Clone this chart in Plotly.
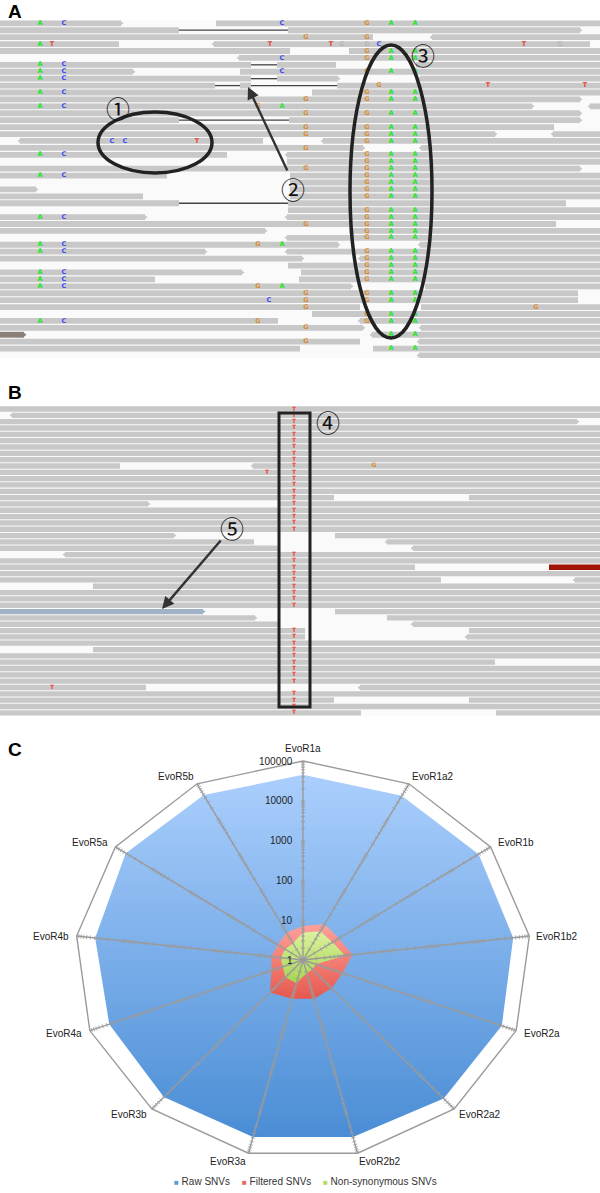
"""Three panel figure: read pileups (A, B) and SNV radar chart (C)."""

import numpy as np
import plotly.graph_objects as go

W, H = 600, 1193

# panel A reads, one list per row: (start, end) along the contig
FULL = [(0, 600)]
A_READS = [
    [(0, 121), (216, 600)], [(0, 179), (288, 580)], [(0, 373), (432, 600)],
    [(0, 119), (214, 590)], [(0, 290), (349, 600)], [(239, 600)],
    [(0, 251), (277, 336), (416, 600)], [(0, 133), (240, 600)],
    [(0, 251), (277, 338), (420, 600)], [(0, 215), (240, 251), (337, 600)],
    [(0, 248), (312, 600)], [(0, 580)], [(0, 532), (590, 600)], [(0, 580)],
    [(0, 179), (289, 580)], [(0, 554)], [(0, 495), (553, 600)],
    [(20, 263), (323, 600)], [(0, 363), (421, 600)], [(0, 227), (287, 600)],
    [(287, 600)], [(0, 580)], [(0, 167), (290, 600)], [(290, 600)],
    [(0, 36), (290, 600)], [(0, 143), (290, 600)], [(0, 179), (288, 566)],
    [(288, 600)], [(0, 145), (287, 600)], [(0, 556)], [(0, 265), (349, 600)],
    [(287, 600)], [(0, 338), (420, 600)], [(0, 205), (287, 600)],
    [(0, 302), (360, 600)], [(288, 600)], [(0, 242), (301, 600)],
    [(0, 155), (299, 600)], [(0, 351), (425, 600)], [(0, 578)], [(0, 578)],
    [(0, 360), (421, 600)], [(312, 600)], [(0, 278), (360, 600)],
    [(0, 363), (421, 600)], [(372, 600)], [(0, 360), (419, 600)],
    [(0, 300), (373, 600)], [(419, 600)],
]
A_OTHER_READ = (45, 0, 24)
A_SPLICES = [(1, 179, 288), (14, 179, 289), (26, 179, 288), (6, 251, 277),
             (8, 251, 277), (9, 215, 240), (9, 251, 337)]
A_HEAD_RIGHT = [(0, 121), (1, 580), (7, 133), (8, 338), (11, 580), (12, 532),
                (13, 580), (14, 580), (16, 495), (18, 363), (21, 580), (24, 36),
                (28, 145), (30, 265), (32, 338), (33, 205), (34, 302), (36, 242),
                (38, 351), (44, 363)]
A_HEAD_LEFT = [(2, 432), (3, 214), (5, 239), (8, 420), (12, 590), (16, 553),
               (17, 20), (17, 323), (18, 421), (19, 287), (28, 287), (31, 287),
               (32, 420), (33, 287), (34, 360), (43, 360), (44, 421), (45, 372),
               (46, 419), (48, 419)]

# panel A mismatches: (base, position, rows)
A_LEFT_ROWS = [0, 6, 7, 8, 10, 12, 19, 22, 28, 32, 33, 36, 37, 38, 43]
A_GAA_ROWS = [0, 4, 5, 7, 10, 11, 13, 15, 16, 17, 19, 20, 21, 22, 23, 24, 25, 27,
              28, 29, 30, 31, 33, 34, 35, 36, 37, 39, 40, 42, 43]
A_SNVS = [
    ("A", 40, A_LEFT_ROWS + [3]), ("C", 64, A_LEFT_ROWS), ("T", 52, [3]),
    ("C", 112, [17]), ("C", 125, [17]), ("T", 197, [17]), ("G", 258, [12, 32, 38, 43]),
    ("C", 269, [40]), ("T", 270, [3]), ("A", 282, [12, 32, 38]), ("C", 282, [0, 5, 7]),
    ("G", 306, [2, 11, 13, 15, 16, 18, 21, 29, 39, 40, 41, 44, 46]), ("T", 331, [3]),
    ("G", 367, A_GAA_ROWS + [2]), ("C", 379, [3]), ("G", 379, [9]),
    ("A", 391, A_GAA_ROWS + [45, 47]), ("A", 415, A_GAA_ROWS + [45, 47]),
    ("T", 488, [9]), ("T", 524, [3]), ("G", 536, [41]), ("T", 585, [9]),
]

# panel B reads
B_READS = [
    FULL, [(12, 600)], [(0, 577)], FULL, FULL, FULL, FULL, FULL, FULL,
    [(0, 120), (253, 600)], FULL, FULL, FULL, FULL, [(0, 334), (469, 600)],
    [(0, 148), (280, 600)], FULL, FULL, FULL, FULL, [(0, 174), (335, 600)],
    [(0, 254), (387, 600)], [(0, 280), (413, 600)], [(65, 600)], FULL, [(0, 415)],
    FULL, [(0, 441), (575, 600)], [(93, 600)], FULL, FULL, FULL, [(335, 600)],
    [(0, 255), (387, 600)], [(0, 280), (413, 600)], [(0, 305), (469, 600)],
    [(0, 305), (467, 600)], FULL, [(93, 600)], FULL, [(0, 495)], FULL, FULL, FULL,
    [(0, 146), (360, 600)], FULL, [(0, 334), (469, 600)], FULL, [(0, 361), (496, 600)],
]
B_BLUE_READ = (32, 0, 203)
B_RED_READ = (25, 549, 600)
B_HEAD_RIGHT = [(2, 577), (15, 148), (20, 174), (33, 255)]
B_HEAD_LEFT = [(1, 12), (9, 253), (21, 387), (22, 413), (23, 65), (27, 575),
               (34, 413), (36, 467), (44, 360)]
B_T_ROWS = list(range(0, 20)) + list(range(23, 32)) + list(range(35, 44)) + [45, 46, 47, 48]
B_SNVS = [("T", 294, B_T_ROWS), ("T", 267, [10]), ("G", 374, [9]), ("T", 52, [44])]

# panel C radar
SAMPLES = ["EvoR1a", "EvoR1a2", "EvoR1b", "EvoR1b2", "EvoR2a", "EvoR2a2", "EvoR2b2",
           "EvoR3a", "EvoR3b", "EvoR4a", "EvoR4b", "EvoR5a", "EvoR5b"]
RAW_SNVS = [45000, 46000, 48000, 44000, 46000, 45000, 38000, 38000, 40000, 35000,
            39000, 53000, 48000]
FILTERED_SNVS = [7.2, 10.5, 9, 12.3, 8.5, 8.9, 10, 10, 12.3, 5.5, 5, 4.7, 5.9]
NONSYN_SNVS = [4.9, 6.5, 6.1, 8.5, 2, 2.1, 2.2, 4, 3.8, 3, 3.1, 3, 3]
RADIAL_TICKS = [1, 10, 100, 1000, 10000, 100000]
LABEL_SHIFTS = [(0, -13), (24, -7), (25, -4), (28, 0), (26, 3), (26, 6), (22, 8),
                (-20, 8), (-23, 6), (-26, 3), (-26, 0), (-25, -4), (-21, -7)]

BASE_COLORS = {"A": "#1fe62a", "C": "#3c4cf2", "G": "#d98c32", "T": "#f0402e"}
READ_GREY = "#c8c8c8"
SPOKE_GREY = "#9a9a9a"
FONT = "Liberation Sans"
FAINT_GAPS = [(20, 358), (406, 716)]


def px_x(x):
    return x / W


def px_y(y):
    return 1 - y / H


def add_reads(fig, rows, yaxis):
    y, base, length = [], [], []
    for row, segments in enumerate(rows):
        for start, end in segments:
            y.append(row)
            base.append(start)
            length.append(end - start)
    fig.add_bar(y=y, x=length, base=base, orientation="h", width=0.84,
                marker=dict(color=READ_GREY, line_width=0), showlegend=False,
                xaxis="x", yaxis=yaxis)


def add_single_read(fig, read, color, yaxis):
    row, start, end = read
    fig.add_bar(y=[row], x=[end - start], base=[start], orientation="h", width=0.84,
                marker=dict(color=color, line_width=0), showlegend=False,
                xaxis="x", yaxis=yaxis)


def add_heads(fig, heads, symbol, yaxis):
    fig.add_scatter(x=[h[1] for h in heads], y=[h[0] for h in heads], mode="markers",
                    marker=dict(symbol=symbol, size=5, color=READ_GREY, line_width=0),
                    showlegend=False, xaxis="x", yaxis=yaxis)


def add_snvs(fig, snvs, yaxis, size=6.5):
    xs, ys, letters, colors = [], [], [], []
    for base, pos, rows in snvs:
        for row in rows:
            xs.append(pos)
            ys.append(row)
            letters.append(base)
            colors.append(BASE_COLORS[base])
    fig.add_scatter(x=xs, y=ys, mode="text", text=letters,
                    textfont=dict(family="DejaVu Sans", size=size, color=colors, weight="bold"),
                    showlegend=False, xaxis="x", yaxis=yaxis)


def radar_xy(values):
    n = len(SAMPLES)
    theta = 2 * np.pi * np.arange(n) / n
    r = np.log10(np.asarray(values, dtype=float))
    return r * np.sin(theta), r * np.cos(theta)


def add_radar_fill(fig, values, name, low, high):
    x, y = radar_xy(values)
    fig.add_scatter(x=np.append(x, x[0]), y=np.append(y, y[0]), mode="none", name=name,
                    fill="toself",
                    fillgradient=dict(type="vertical", colorscale=[[0, low], [1, high]]),
                    showlegend=False, xaxis="x2", yaxis="y3")


fig = go.Figure()

# pileups
add_reads(fig, A_READS, "y")
add_single_read(fig, A_OTHER_READ, "#8c8178", "y")
add_heads(fig, A_HEAD_RIGHT, "triangle-right", "y")
add_heads(fig, A_HEAD_LEFT, "triangle-left", "y")
fig.add_scatter(x=[A_OTHER_READ[2]], y=[A_OTHER_READ[0]], mode="markers",
                marker=dict(symbol="triangle-right", size=5, color="#8c8178", line_width=0),
                showlegend=False, xaxis="x", yaxis="y")
splice_x, splice_y = [], []
for row, start, end in A_SPLICES:
    splice_x += [start, end, None]
    splice_y += [row, row, None]
fig.add_scatter(x=splice_x, y=splice_y, mode="lines", line=dict(color="#444444", width=1.3),
                showlegend=False, xaxis="x", yaxis="y")
add_snvs(fig, A_SNVS, "y")
fig.add_scatter(x=[342, 367, 560], y=[3, 3, 3], mode="text", text=["G", "G", "G"],
                textfont=dict(family="DejaVu Sans", size=6.5, color="#aaaaaa"),
                showlegend=False, xaxis="x", yaxis="y")

add_reads(fig, B_READS, "y2")
add_single_read(fig, B_BLUE_READ, "#a2b2c6", "y2")
add_single_read(fig, B_RED_READ, "#a01405", "y2")
add_heads(fig, B_HEAD_RIGHT, "triangle-right", "y2")
add_heads(fig, B_HEAD_LEFT, "triangle-left", "y2")
fig.add_scatter(x=[B_BLUE_READ[2]], y=[B_BLUE_READ[0]], mode="markers",
                marker=dict(symbol="triangle-right", size=5, color="#a2b2c6", line_width=0),
                showlegend=False, xaxis="x", yaxis="y2")
add_snvs(fig, B_SNVS, "y2", size=6)

# radar: log10 radius on thirteen spokes
add_radar_fill(fig, RAW_SNVS, "Raw SNVs", "#4a8dd5", "#abcffd")
add_radar_fill(fig, FILTERED_SNVS, "Filtered SNVs", "#e6584e", "#ffa29b")
add_radar_fill(fig, NONSYN_SNVS, "Non-synonymous SNVs", "#a6d44f", "#dcf29f")

outer_x, outer_y = radar_xy([RADIAL_TICKS[-1]] * len(SAMPLES))
spoke_x, spoke_y = [], []
for sx, sy in zip(outer_x, outer_y):
    spoke_x += [0, sx, None]
    spoke_y += [0, sy, None]
fig.add_scatter(x=spoke_x, y=spoke_y, mode="lines", line=dict(color=SPOKE_GREY, width=1.4),
                showlegend=False, xaxis="x2", yaxis="y3")
fig.add_scatter(x=np.append(outer_x, outer_x[0]), y=np.append(outer_y, outer_y[0]),
                mode="lines", line=dict(color=SPOKE_GREY, width=1.4),
                showlegend=False, xaxis="x2", yaxis="y3")

# log ticks across every spoke
X_PX_PER_DECADE, Y_PX_PER_DECADE = 45.6, 39.8
tick_values = [m * 10 ** k for k in range(5) for m in range(1, 10)]
tick_x, tick_y, tick_angle = [], [], []
for i in range(len(SAMPLES)):
    theta = 2 * np.pi * i / len(SAMPLES)
    angle = np.degrees(np.arctan2(X_PX_PER_DECADE * np.sin(theta), Y_PX_PER_DECADE * np.cos(theta)))
    for value in tick_values:
        r = np.log10(value)
        tick_x.append(r * np.sin(theta))
        tick_y.append(r * np.cos(theta))
        tick_angle.append(angle)
fig.add_scatter(x=tick_x, y=tick_y, mode="markers",
                marker=dict(symbol="line-ew", size=3, angle=tick_angle,
                            line=dict(color=SPOKE_GREY, width=0.8)),
                showlegend=False, xaxis="x2", yaxis="y3")

annotations = []
for value in RADIAL_TICKS:
    annotations.append(dict(x=0, y=np.log10(value), xref="x2", yref="y3", text=str(value),
                            xanchor="right", showarrow=False, xshift=-8,
                            font=dict(family=FONT, size=10, color="#222222")))
for label, lx, ly, (dx, dy) in zip(SAMPLES, outer_x, outer_y, LABEL_SHIFTS):
    annotations.append(dict(x=lx, y=ly, xref="x2", yref="y3", text=label, showarrow=False,
                            xshift=dx, yshift=-dy,
                            font=dict(family=FONT, size=10, color="#222222")))

for letter, ly in (("A", 11), ("B", 392), ("C", 749)):
    annotations.append(dict(x=px_x(15), y=px_y(ly), xref="paper", yref="paper", text=f"<b>{letter}</b>",
                            xanchor="center", yanchor="middle", showarrow=False,
                            font=dict(family=FONT, size=19, color="black")))

for mark, mx, my in (("①", 118, 107), ("②", 293, 188), ("③", 423, 54), ("④", 328, 421), ("⑤", 232, 527)):
    annotations.append(dict(x=px_x(mx), y=px_y(my), xref="paper", yref="paper", text=mark,
                            xanchor="center", yanchor="middle", showarrow=False,
                            font=dict(family="Noto Sans CJK JP", size=24, color="#111111")))

for tip, tail in (((248, 87), (288, 172)), ((162, 609), (222, 539))):
    annotations.append(dict(x=px_x(tip[0]), y=px_y(tip[1]), xref="paper", yref="paper",
                            ax=tail[0] - tip[0], ay=tail[1] - tip[1], axref="pixel", ayref="pixel",
                            text="", showarrow=True, arrowhead=2, arrowsize=1, arrowwidth=2.4,
                            arrowcolor="#333333"))

for name, color, lx in (("Raw SNVs", "#5f9bdc", 175), ("Filtered SNVs", "#f0655f", 243),
                        ("Non-synonymous SNVs", "#b5dc5c", 324)):
    annotations.append(dict(x=px_x(lx - 3), y=px_y(1181), xref="paper", yref="paper",
                            xanchor="left", yanchor="middle",
                            text=f"<span style='color:{color};font-size:8px'>■</span> {name}",
                            showarrow=False, font=dict(family=FONT, size=10, color="#333333")))

shapes = [dict(type="rect", xref="paper", yref="paper", x0=0, x1=1, y0=px_y(bottom), y1=px_y(top),
               fillcolor="#fafafa", line_width=0, layer="below") for top, bottom in FAINT_GAPS]
ring = dict(color="#222222", width=3.5)
shapes.append(dict(type="circle", xref="paper", yref="paper", x0=px_x(98), x1=px_x(212),
                   y0=px_y(173), y1=px_y(112), line=ring))
shapes.append(dict(type="circle", xref="paper", yref="paper", x0=px_x(350), x1=px_x(432),
                   y0=px_y(338), y1=px_y(45), line=ring))
shapes.append(dict(type="rect", xref="paper", yref="paper", x0=px_x(279), x1=px_x(310),
                   y0=px_y(707), y1=px_y(413), line=dict(color="#222222", width=3)))

hidden = dict(visible=False, fixedrange=True)
fig.update_layout(
    width=W, height=H, margin=dict(l=0, r=0, t=0, b=0),
    paper_bgcolor="white", plot_bgcolor="rgba(0,0,0,0)", barmode="overlay", showlegend=False,
    xaxis=dict(domain=[0, 1], range=[0, 600], **hidden),
    yaxis=dict(domain=[px_y(358), px_y(20)], range=[48.36, -0.477], anchor="x", **hidden),
    yaxis2=dict(domain=[px_y(716), px_y(406)], range=[48.5, -0.474], anchor="x", **hidden),
    xaxis2=dict(domain=[0, 1], range=[-303 / X_PX_PER_DECADE, 297 / X_PX_PER_DECADE], anchor="y3", **hidden),
    yaxis3=dict(domain=[0, px_y(730)], range=[(960 - H) / Y_PX_PER_DECADE, 230 / Y_PX_PER_DECADE],
                anchor="x2", **hidden),
    annotations=annotations, shapes=shapes,
)

# the page's default body margin would push the fixed-size figure off the window
fig.write_html("out.html", config={"displayModeBar": False},
               post_script="document.body.style.margin = '0';")
